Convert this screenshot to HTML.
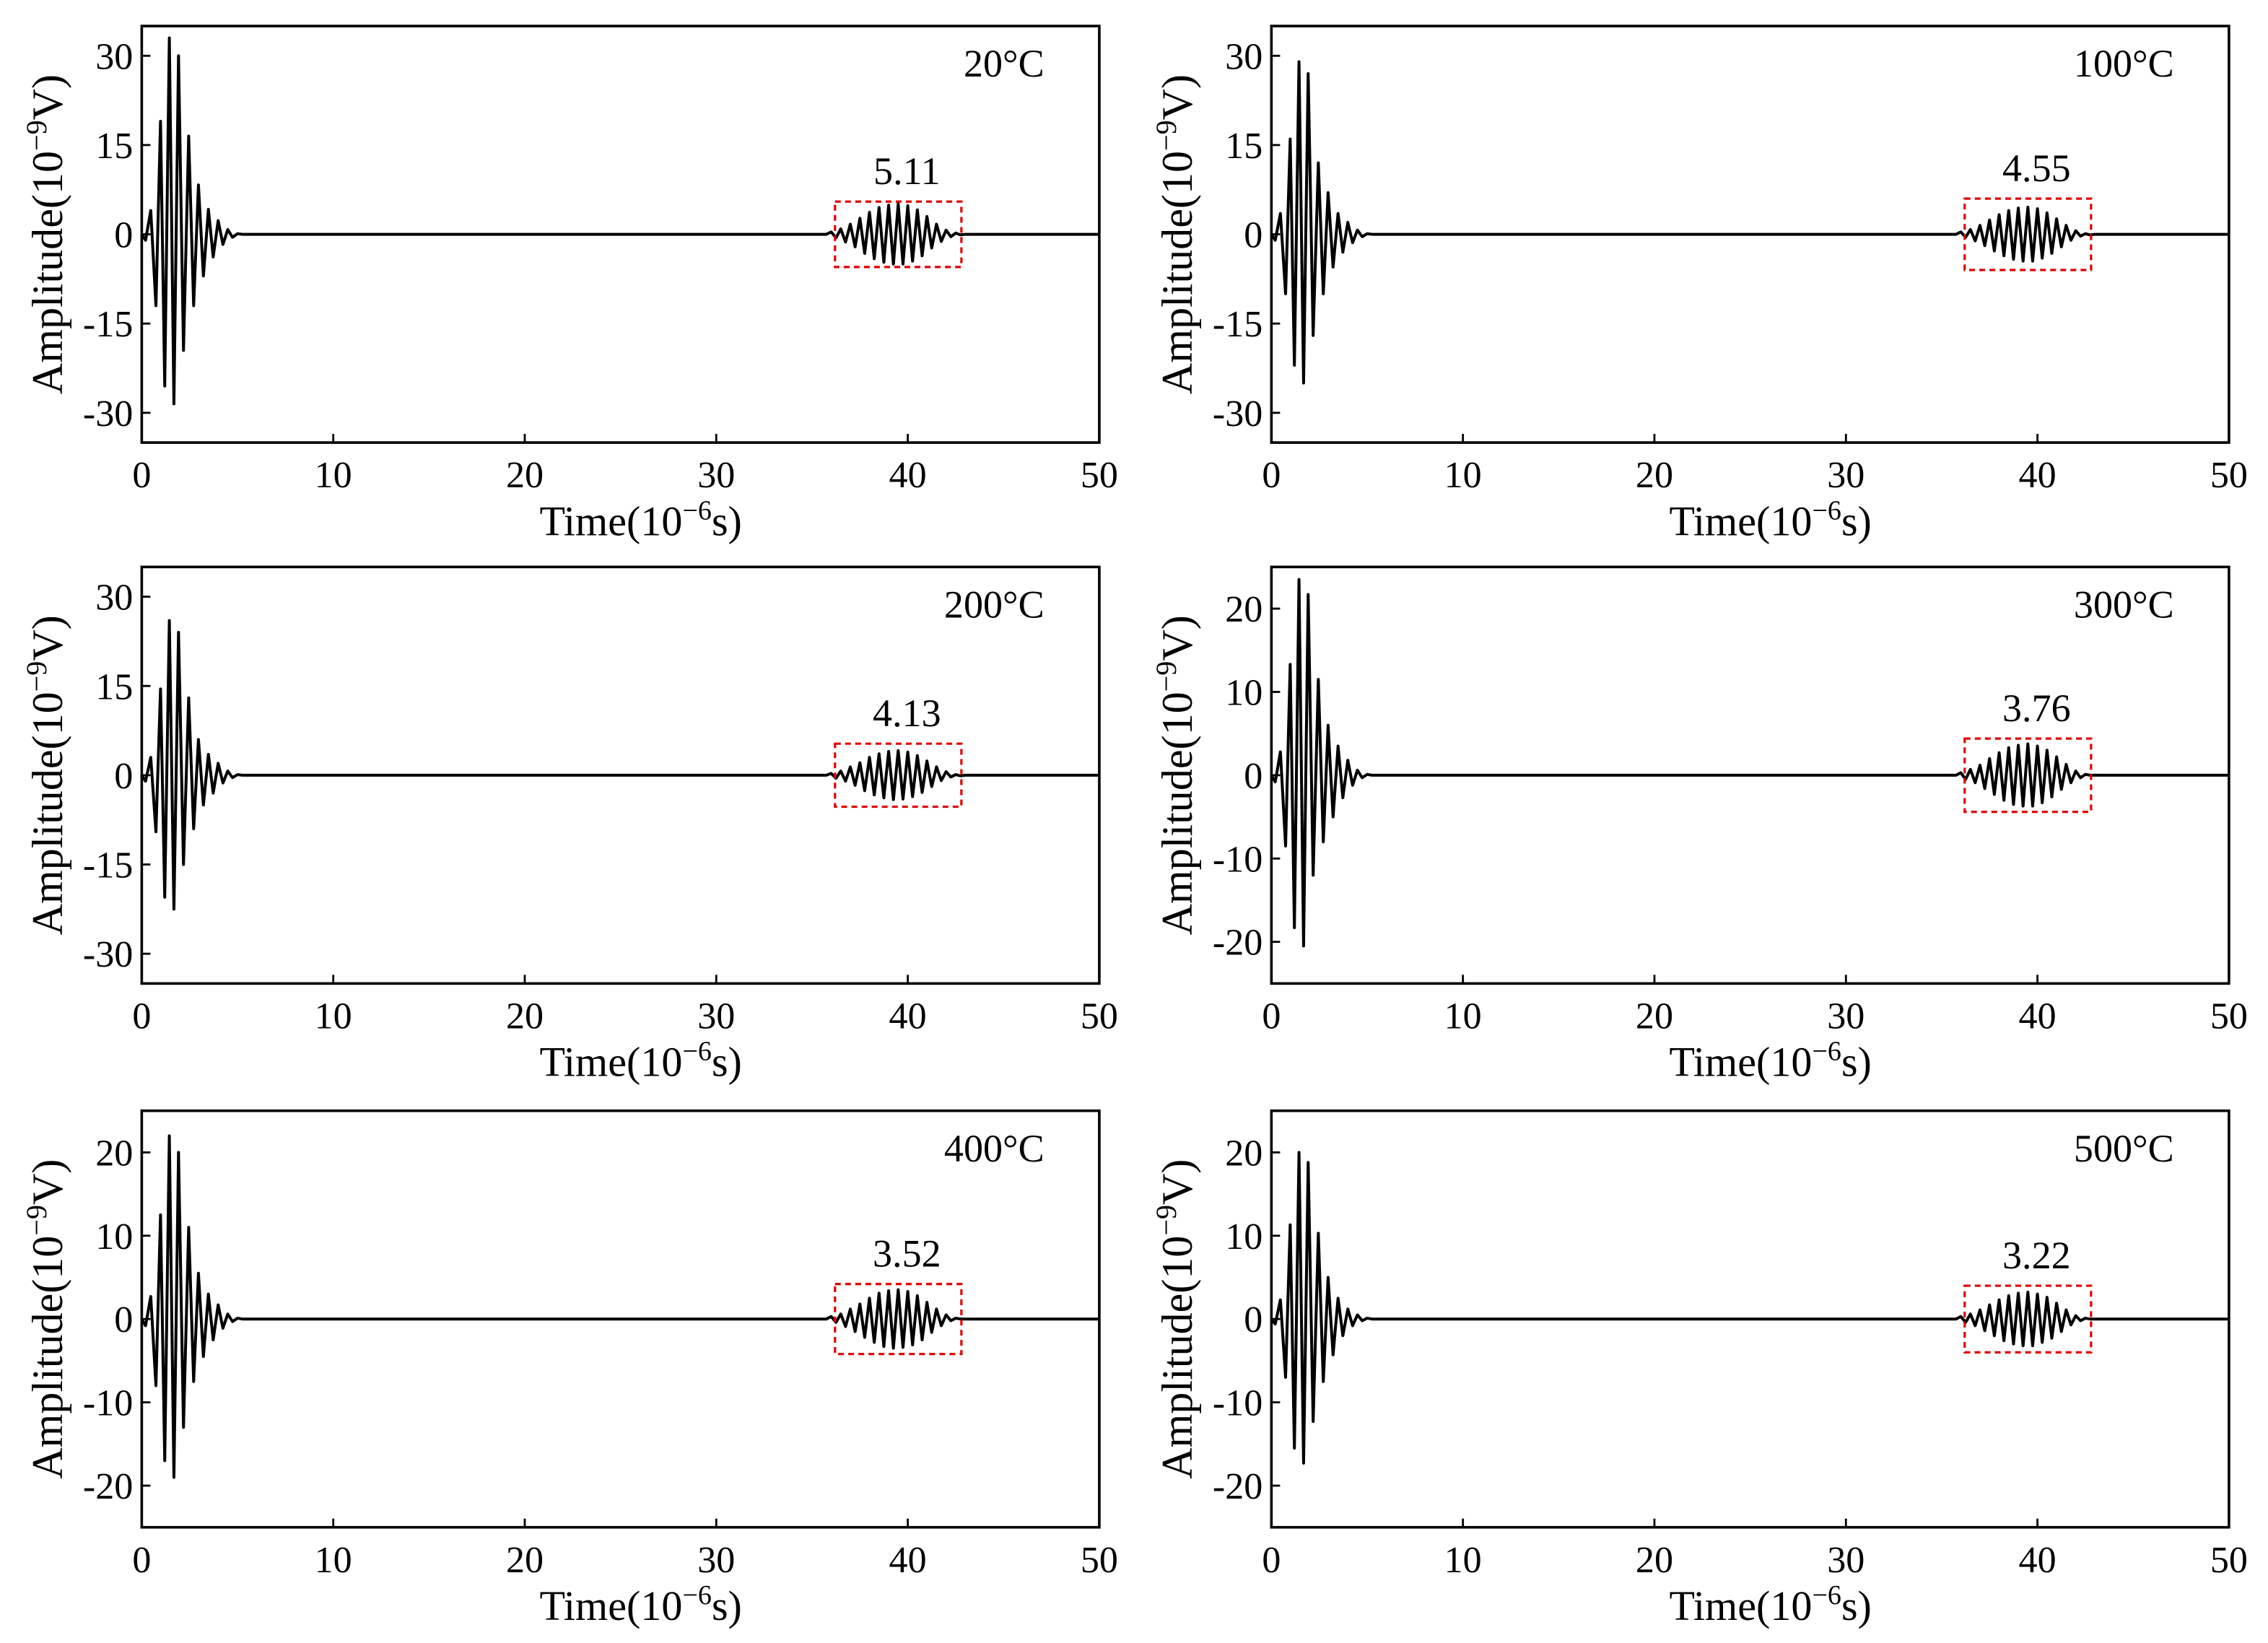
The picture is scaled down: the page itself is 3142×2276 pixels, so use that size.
<!DOCTYPE html>
<html><head><meta charset="utf-8"><style>
html,body{margin:0;padding:0;background:#fff;}
svg{display:block;}
text{font-family:"Liberation Serif","DejaVu Serif",serif;fill:#000;}
</style></head>
<body>
<svg id="fig" width="3142" height="2276" viewBox="0 0 1568 1136" preserveAspectRatio="none" xmlns="http://www.w3.org/2000/svg"></svg>
<script>
// ---- data ----
const xTicks = [0,10,20,30,40,50];
const panelTitles = ["20\u00B0C","100\u00B0C","200\u00B0C","300\u00B0C","400\u00B0C","500\u00B0C"];
const panelValues = ["5.11","4.55","4.13","3.76","3.52","3.22"];
const yTicksA = [30,15,0,-15,-30];
const yTicksB = [20,10,0,-10,-20];
const peakTimes1 = [0.2,0.47,0.74,0.98,1.2,1.44,1.68,1.92,2.18,2.45,2.71,2.96,3.22,3.48,3.73,3.99,4.24,4.49,4.74,5.0];
const amp1_20  = [-1,4,-12,19,-25.5,33,-28.5,30,-19.5,16.5,-12,8.3,-7,4.2,-3.8,2.3,-1.7,0.8,-0.5,0.1];
const amp1_100 = [-1,3.5,-10,16,-22,29,-25,27,-17,12,-10,7,-5.5,3.5,-3,2,-1.4,0.7,-0.4,0.1];
const amp1_200 = [-1,3,-9.5,14.5,-20.5,26,-22.5,24,-15,13,-9,6,-5,3.5,-3,2,-1.3,0.7,-0.4,0.1];
const amp1_300 = [-0.8,2.8,-8.5,13.3,-18.3,23.5,-20.5,21.7,-12,11.5,-8,6,-5,3.5,-2.7,1.8,-1.2,0.6,-0.3,0.1];
const amp1_400 = [-0.8,2.7,-8,12.5,-17,22,-19,20,-13,11,-7.5,5.5,-4.5,3,-2.5,1.7,-1.1,0.6,-0.3,0.1];
const amp1_500 = [-0.6,2.3,-7,11.3,-15.5,20,-17.3,18.8,-12.3,10.3,-7.5,5,-4.3,2.5,-2,1.2,-0.8,0.5,-0.2,0.1];
const peakTimes2 = [36,36.25,36.5,36.75,37,37.25,37.5,37.75,38,38.25,38.5,38.75,39,39.25,39.5,39.75,40,40.25,40.5,40.75,41,41.25,41.5,41.75,42,42.25,42.5,42.75,43];
const amp2_20  = [0.4,-0.6,0.9,-1.3,1.7,-2.1,2.7,-3.2,3.7,-4.1,4.5,-4.7,4.9,-5.0,5.1,-5.0,4.8,-4.5,4.1,-3.6,3.0,-2.3,1.7,-1.2,0.7,-0.4,0.2,-0.1,0];
const amp2_100 = [0.4,-0.5,0.8,-1.1,1.5,-1.9,2.4,-2.8,3.3,-3.6,4.0,-4.2,4.4,-4.5,4.55,-4.5,4.3,-4.0,3.6,-3.2,2.6,-2.1,1.5,-1.0,0.6,-0.3,0.1,-0.1,0];
const amp2_200 = [0.3,-0.5,0.7,-1.0,1.4,-1.7,2.1,-2.6,3.0,-3.3,3.6,-3.8,4.0,-4.1,4.13,-4.0,3.9,-3.6,3.3,-2.9,2.4,-1.9,1.4,-0.9,0.6,-0.3,0.1,-0.1,0];
const amp2_300 = [0.3,-0.5,0.7,-0.9,1.2,-1.6,2.0,-2.3,2.7,-3.0,3.3,-3.5,3.6,-3.7,3.76,-3.7,3.5,-3.3,3.0,-2.6,2.2,-1.7,1.3,-0.9,0.5,-0.3,0.1,0,0];
const amp2_400 = [0.3,-0.4,0.6,-0.9,1.2,-1.5,1.8,-2.2,2.5,-2.8,3.1,-3.3,3.4,-3.5,3.52,-3.4,3.3,-3.1,2.8,-2.5,2.0,-1.6,1.2,-0.8,0.5,-0.2,0.1,0,0];
const amp2_500 = [0.3,-0.4,0.6,-0.8,1.1,-1.4,1.7,-2.0,2.3,-2.6,2.8,-3.0,3.1,-3.2,3.22,-3.2,3.0,-2.8,2.6,-2.3,1.9,-1.5,1.1,-0.7,0.4,-0.2,0.1,0,0];
const boxT0 = [36.2,36.2,36.2,36.2,36.2,36.2];
const boxT1 = [42.8,42.8,42.8,42.8,42.8,42.8];
const boxHalf = [5.5,6.0,5.3,4.4,4.2,4.0];
const yRanges = [35,35,35,25,25,25];

const amps1 = [amp1_20,amp1_100,amp1_200,amp1_300,amp1_400,amp1_500];
const amps2 = [amp2_20,amp2_100,amp2_200,amp2_300,amp2_400,amp2_500];
const yTickSets = [yTicksA,yTicksA,yTicksA,yTicksB,yTicksB,yTicksB];

// ---- layout ----
const NS = "http://www.w3.org/2000/svg";
const svg = document.getElementById("fig");
const lefts = [98,879];
const W = 662;
const tops = [18,392,768];
const H = 288;

function mk(tag, attrs, parent){
  const e = document.createElementNS(NS, tag);
  for (const k in attrs) e.setAttribute(k, attrs[k]);
  parent.appendChild(e);
  return e;
}

for (let p = 0; p < 6; p++) {
  const L = lefts[p % 2], T = tops[Math.floor(p / 2)];
  const R = yRanges[p];
  const xs = t => L + t / 50 * W;
  const ys = v => T + H / 2 - v / R * (H / 2);
  const g = mk("g", {}, svg);
  
  

  let d = "M" + xs(0) + "," + ys(0);
  peakTimes1.forEach((t, i) => { d += " L" + xs(t).toFixed(2) + "," + ys(amps1[p][i]).toFixed(2); });
  d += " L" + xs(5.25) + "," + ys(0) + " L" + xs(35.75) + "," + ys(0);
  peakTimes2.forEach((t, i) => { d += " L" + xs(t).toFixed(2) + "," + ys(amps2[p][i]).toFixed(2); });
  d += " L" + xs(50) + "," + ys(0);
  const line = mk("path", {d: d, fill: "none", stroke: "#000", "stroke-width": 2, "stroke-linejoin": "round"}, g);
  
  

  const bx = mk("rect", {x: xs(boxT0[p]), y: ys(boxHalf[p]), width: xs(boxT1[p]) - xs(boxT0[p]), height: ys(-boxHalf[p]) - ys(boxHalf[p]), fill: "none", stroke: "#e00000", "stroke-width": 1.6, "stroke-dasharray": "4,3"}, g);
  
  

  const vl = mk("text", {x: (xs(boxT0[p]) + xs(boxT1[p])) / 2 + 6, y: ys(boxHalf[p]) - 12, "text-anchor": "middle", "font-size": 27}, g);
  vl.textContent = panelValues[p];
  
  

  const tt = mk("text", {x: L + W - 38, y: T + 35, "text-anchor": "end", "font-size": 27}, g);
  tt.textContent = panelTitles[p];
  
  

  const fr = mk("rect", {x: L, y: T, width: W, height: H, fill: "none", stroke: "#000", "stroke-width": 1.8}, g);
  
  

  xTicks.forEach(v => {
    const tk = mk("line", {x1: xs(v), x2: xs(v), y1: T + H, y2: T + H - 6, stroke: "#000", "stroke-width": 1.4}, g);
    
    
    const tl = mk("text", {x: xs(v), y: T + H + 31, "text-anchor": "middle", "font-size": 26}, g);
    tl.textContent = v;
    
    
  });
  yTickSets[p].forEach(v => {
    const tk = mk("line", {x1: L, x2: L + 6, y1: ys(v), y2: ys(v), stroke: "#000", "stroke-width": 1.4}, g);
    
    
    const tl = mk("text", {x: L - 6, y: ys(v) + 9, "text-anchor": "end", "font-size": 26}, g);
    tl.textContent = v;
    
    
  });

  const xt = mk("text", {x: L + W / 2 + 14, y: T + H + 64, "text-anchor": "middle", "font-size": 29}, g);
  xt.innerHTML = 'Time(10<tspan dy="-11" font-size="19">\u22126</tspan><tspan dy="11">s)</tspan>';
  
  

  const cy = T + H / 2;
  const yt = mk("text", {x: 0, y: 0, "text-anchor": "middle", "font-size": 30, transform: "translate(" + (L - 55) + "," + cy + ") rotate(-90)"}, g);
  yt.innerHTML = 'Amplitude(10<tspan dy="-11" font-size="20">\u22129</tspan><tspan dy="11">V)</tspan>';
  
  
}
</script>
</body></html>
